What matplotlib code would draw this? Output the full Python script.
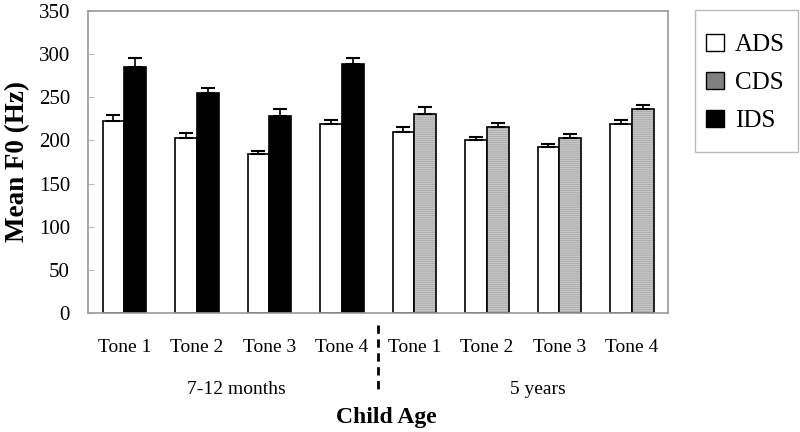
import matplotlib
matplotlib.use("Agg")
import matplotlib.pyplot as plt
import numpy as np
from matplotlib.patches import Patch, Rectangle

tones = ["Tone 1", "Tone 2", "Tone 3", "Tone 4", "Tone 1", "Tone 2", "Tone 3", "Tone 4"]
groups = ["7-12 months", "5 years"]
ads = [222, 203, 184, 219, 210, 200, 192, 219]
ads_err = [7, 6, 4, 5, 5, 4, 4, 5]
other = [285, 255, 228, 288, 231, 215, 203, 236]
other_err = [10, 6, 8, 7, 8, 5, 4, 5]
other_kind = ["IDS", "IDS", "IDS", "IDS", "CDS", "CDS", "CDS", "CDS"]

plt.rcParams['font.family'] = ['Liberation Serif', 'DejaVu Serif']
plt.rcParams['hatch.linewidth'] = 0.5

fig = plt.figure(figsize=(8, 4.32), dpi=100)
ax = fig.add_axes([88/800, 1-313/432, 580/800, 302/432])

x = np.arange(len(tones))
w = 0.3
ax.bar(x - w/2, ads, w, color='white', edgecolor='black', linewidth=1.2, zorder=2)
ax.errorbar(x - w/2, ads, yerr=[np.zeros(len(ads)), ads_err], fmt='none',
            ecolor='black', elinewidth=1.2, capsize=5, capthick=1.5, zorder=3)
for i, (v, e, k) in enumerate(zip(other, other_err, other_kind)):
    if k == "IDS":
        ax.bar(x[i] + w/2, v, w, color='black', edgecolor='black', linewidth=1.2, zorder=2)
    else:
        ax.bar(x[i] + w/2, v, w, color='#c6c6c6', edgecolor='#a6a6a6', linewidth=0,
               hatch='--------', zorder=2)
        ax.bar(x[i] + w/2, v, w, color='none', edgecolor='black', linewidth=1.2, zorder=2.5)
    ax.errorbar(x[i] + w/2, v, yerr=[[0], [e]], fmt='none', ecolor='black',
                elinewidth=1.2, capsize=5, capthick=1.5, zorder=3)

ax.set_xlim(-0.5, len(tones) - 0.5)
ax.set_ylim(0, 350)
ax.set_yticks(np.arange(0, 351, 50))
ax.set_xticks(x)
ax.set_xticklabels(tones, fontsize=14)
ax.tick_params(axis='x', length=0, pad=19)
ax.tick_params(axis='y', labelsize=15, length=4, direction='in', color='#bbbbbb', pad=13)
for s in ax.spines.values():
    s.set_color('#999999')
    s.set_linewidth(1.2)
ax.set_ylabel("Mean F0 (Hz)", fontsize=19.5, fontweight='bold', labelpad=6)

# group labels and separator
trans = ax.get_xaxis_transform()
ax.text(1.55, -0.252, groups[0], transform=trans, ha='center', va='center', fontsize=14)
ax.text(5.7, -0.252, groups[1], transform=trans, ha='center', va='center', fontsize=14)
ax.plot([3.5, 3.5], [-0.04, -0.252], transform=trans, color='black', lw=2,
        linestyle=(0, (3, 2)), clip_on=False)
fig.text(386/800, 1-417/432, "Child Age", ha='center', va='center', fontsize=17, fontweight='bold')

# legend with separate frame
fig.patches.append(Rectangle((695/800, 1-152/432), 103/800, 142/432, transform=fig.transFigure,
                             facecolor='white', edgecolor='#bbbbbb', linewidth=1.0))
handles = [Patch(facecolor='white', edgecolor='black', label='ADS'),
           Patch(facecolor='#808080', edgecolor='black', label='CDS'),
           Patch(facecolor='black', edgecolor='black', label='IDS')]
leg = fig.legend(handles=handles, loc='center left', bbox_to_anchor=(706/800, 1-83/432),
                 fontsize=18, frameon=False, handlelength=0.7, handleheight=0.7,
                 handletextpad=0.45, labelspacing=0.62, borderpad=0, borderaxespad=0)

fig.savefig("out.png", dpi=100)
